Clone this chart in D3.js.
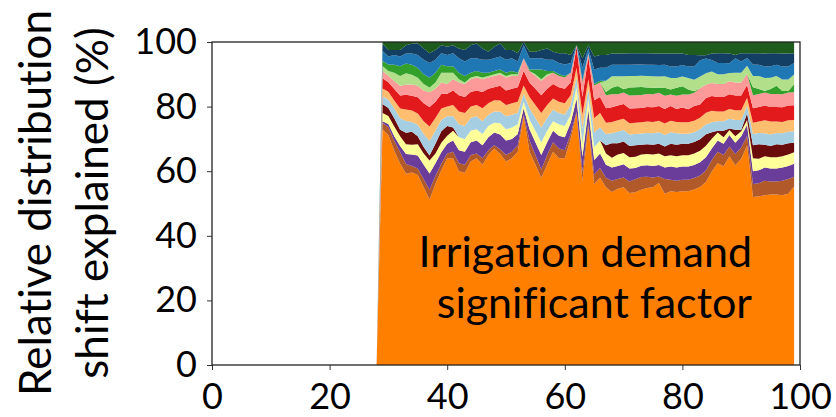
<!DOCTYPE html>
<html>
<head>
<meta charset="utf-8">
<script src="https://cdn.jsdelivr.net/npm/d3@7/dist/d3.min.js"></script>
<style>
  html, body { margin: 0; padding: 0; background: #fff; }
  svg { display: block; }
  text { font-family: Lato, "Open Sans", sans-serif; fill: #000; font-variant-ligatures: none; }
</style>
</head>
<body>
<svg id="chart" width="836" height="417"></svg>
<script>
// Percentile steps along the x axis; factors only contribute from step 29 on
const firstStep = 29;
const lastStep = 99;

// Share of the distribution shift attributed to each factor (steps 29..99)
const irrigation = [73, 71.5, 66, 62, 58, 59, 58.5, 55, 51, 56,
  60, 64, 64, 60, 59.5, 63, 64, 62, 65, 67,
  65, 63, 64, 66, 77, 66, 62, 58, 62, 66,
  64, 64, 70, 78, 57, 74, 56, 58, 55, 53,
  54, 54.5, 53, 53.5, 54.5, 54.5, 54.5, 55.5, 52.5, 53,
  53, 53, 53, 53.5, 54, 55.5, 59, 62.5, 61.5, 64,
  61.5, 63.5, 69, 52, 52, 52, 52.5, 52.5, 52, 52.5,
  55];
const brown = [2, 2.5, 3, 3.5, 3, 2, 2, 2.5, 3, 2.5,
  2, 1.5, 2, 2.5, 2.5, 2, 1.5, 2, 1.5, 1,
  1.5, 2, 2, 2, 0.5, 3.5, 3, 2.5, 3, 3,
  3, 2.5, 1.5, 0.5, 3, 1, 3, 3, 3, 3.5,
  3, 3, 3.5, 4, 4, 3.5, 3, 2, 4.5, 3.5,
  3.5, 3.5, 3.5, 3.5, 3.5, 3.5, 3.5, 3.5, 3.5, 3,
  3.5, 3.5, 3, 4, 4, 4.5, 4, 4, 4.5, 4.5,
  3];
const purple = [0.5, 1, 1.5, 2, 3, 3.5, 4, 4.5, 5, 4,
  3.5, 3, 3.5, 4, 4, 4, 4, 4, 4, 4,
  4.5, 4.5, 4, 3.5, 2, 3.5, 4, 4.5, 4, 3.5,
  4, 4, 3.5, 4, 4.5, 4, 4.5, 4.5, 4, 4,
  4, 4, 4, 3.5, 3.5, 3.5, 3.5, 3.5, 3.5, 4,
  4, 4, 4, 4, 4, 4, 3.5, 3.5, 3.5, 3.5,
  3.5, 3.5, 3.5, 4, 4, 4, 4, 4, 4, 4,
  4];
const yellow = [2.5, 2.5, 3, 3, 3, 3, 3.5, 3.5, 4, 3,
  3, 2.5, 3, 4, 4, 3.5, 3.5, 3.5, 3.5, 3,
  3.5, 3.5, 3.5, 3, 2, 3, 3.5, 4, 3.5, 3,
  3.5, 3.5, 2.5, 3.5, 4, 3.5, 4, 4, 3.5, 3,
  3.5, 3.5, 3.5, 3.5, 3.5, 3.5, 3.5, 3.5, 3.5, 3.5,
  3.5, 3.5, 3.5, 3.5, 3.5, 3.5, 3, 2.5, 2, 1.5,
  2, 1.5, 1.5, 4, 3.5, 3.5, 3.5, 3.5, 3.5, 3.5,
  3.5];
const maroon = [2.8, 2.5, 2.5, 2, 3.5, 4, 2.5, 2, 1.5, 3,
  3.5, 3, 1, 0, 0, 0, 0, 0, 0, 0,
  0, 0, 0, 0, 0, 0, 0, 0, 0, 0,
  0, 0, 0, 0, 0, 0, 0, 0, 2.5, 4.5,
  3.5, 3.5, 3.5, 3.5, 3, 3, 3, 3, 3, 3.5,
  3.5, 3.5, 3.5, 3.5, 3.5, 3.5, 2, 0.5, 2, 0.5,
  2, 0.5, 2, 4, 4.5, 3.5, 3.5, 4, 3.5, 3.5,
  3];
const lightBlue = [2.4, 2.5, 3, 3.5, 3.5, 3, 3.5, 4, 4.5, 4,
  3.5, 3, 3.5, 4, 4, 4, 4, 4, 3.5, 3.5,
  3.5, 4, 4, 3.5, 2.5, 3.5, 4, 4.5, 4, 3.5,
  3.5, 3.5, 3, 3, 4.5, 3, 4.5, 4, 3.5, 3,
  3.5, 3.5, 3.5, 3.5, 3.5, 3.5, 3.5, 3.5, 3.5, 3.5,
  3.5, 3, 3, 3, 3, 3, 3, 3, 3, 3,
  3, 3, 2.5, 3.5, 3.5, 3.5, 3.5, 3.5, 3.5, 3.5,
  3.5];
const lightOrange = [2.4, 2.5, 2.5, 3, 3.5, 3.5, 3.5, 4, 4.5, 4,
  3.5, 3, 3.5, 4, 4, 3.5, 3.5, 4, 3.5, 3.5,
  3.5, 3.5, 3.5, 3.5, 2.5, 3.5, 4, 4.5, 4, 3.5,
  3.5, 3.5, 3, 3, 4.5, 3, 4.5, 4.5, 3.5, 3.5,
  3.5, 3.5, 3.5, 3.5, 3.5, 3.5, 3.5, 3.5, 3.5, 3.5,
  3.5, 3.5, 3.5, 3.5, 3.5, 3.5, 3.5, 3, 3, 3,
  3, 3, 2.5, 3.5, 3.5, 4, 4, 3.5, 3.5, 3.5,
  3.5];
const red = [3.2, 3, 3.5, 4, 4.5, 4.5, 5, 5.5, 6, 5,
  4.5, 4, 4.5, 5, 5, 4.5, 4.5, 5, 4.5, 4,
  4.5, 4.5, 4.5, 4.5, 4.5, 4.5, 5, 5.5, 5, 4.5,
  4.5, 4.5, 4, 6.5, 5.5, 7, 5.5, 5, 4.5, 4.5,
  4.5, 4.5, 4.5, 4.5, 4.5, 4.5, 4.5, 4.5, 4.5, 4.5,
  4, 4.5, 4, 4.5, 4, 4.5, 4.5, 4.5, 4.5, 4.5,
  4.5, 4.5, 4, 4.5, 4.5, 4.5, 4.5, 4.5, 4.5, 4.5,
  4.5];
const pink = [2.2, 2, 2.5, 3, 3, 3.5, 3.5, 4, 4.5, 4,
  3.5, 3, 3.5, 4, 4, 4, 4, 4, 3.5, 3.5,
  3.5, 4, 4, 3.5, 4, 3.5, 4, 4.5, 4, 3.5,
  3.5, 3.5, 3, 0.5, 4.5, 1, 4.5, 4.5, 4, 4,
  3.5, 3.5, 4, 4, 4, 4, 4, 4, 4, 3.5,
  4, 4, 4.5, 4, 5, 4, 4, 4, 4, 4,
  4, 4, 3.5, 4, 4, 4, 4, 4, 4, 4,
  4];
const greenLow = [0, 0, 0, 0, 0, 0, 0, 0, 0, 0,
  0, 0, 0, 0, 0, 0, 0, 0, 0, 0,
  0, 0, 0, 0, 0, 0, 0, 0, 0, 0,
  0, 0, 0, 0, 0, 0, 0, 0, 1, 2,
  2.5, 1, 2.5, 2.5, 2.5, 2, 2, 1.5, 2.5, 1.5,
  2.5, 2.5, 1.5, 0.5, 0, 0, 0, 0, 0, 0,
  0, 0, 0, 2.5, 1.5, 0.5, 1.5, 2.5, 1, 0.5,
  2.5];
const lightGreen = [1.6, 1.5, 2.5, 3, 3.5, 3, 2.5, 2, 1.5, 2,
  3, 3.5, 2, 1, 0.5, 0.5, 0.5, 0.5, 0.5, 0.5,
  0.5, 0.5, 0.5, 0.5, 0, 0, 0.5, 0.5, 0.5, 0,
  0, 0, 0, 0, 0, 0, 0, 0, 3.5, 3.5,
  3, 4, 3.5, 3.5, 3.5, 3.5, 3.5, 3.5, 3.5, 3.5,
  3, 3, 3.5, 3.5, 3.5, 3.5, 3.5, 3, 3, 2.5,
  3, 3, 2.5, 3.5, 4, 4, 3.5, 3, 3.5, 3.5,
  3];
const greenHigh = [1.5, 2, 2.5, 3, 3, 3, 3, 3, 3, 3,
  2.5, 2, 2, 2, 2, 1.5, 1.5, 1.5, 1, 1,
  1, 1, 1, 0.5, 0, 0.5, 1.5, 3, 1, 0.5,
  0.5, 0.5, 0, 0, 0.5, 0, 0.5, 0.5, 0, 0,
  0, 0, 0, 0, 0, 0, 0, 0, 0, 0,
  0, 0, 0, 0, 0, 0, 0, 0, 0, 0,
  0, 0, 0, 0, 0, 0, 0, 0, 0, 0,
  0];
const blue = [3.1, 2.5, 3, 3, 3, 3.5, 4, 4.5, 4.5, 4,
  3.5, 3.5, 4, 4.5, 4.5, 4.5, 4, 4, 4, 4,
  4, 4, 4, 3.5, 4, 3.5, 3.5, 3.5, 3.5, 3.5,
  3.5, 3.5, 3, 0, 4, 1.5, 4.5, 4, 4, 3.5,
  3.5, 3.5, 3.5, 3.5, 3.5, 3.5, 3.5, 3.5, 3.5, 3.5,
  3.5, 3.5, 3.5, 4, 5, 4.5, 3.5, 3.5, 3.5, 3,
  4.5, 3.5, 2.5, 3.5, 3.5, 3.5, 3.5, 3.5, 4, 4,
  3.5];
const navy = [2.3, 2, 1.5, 2, 2.5, 3, 3.5, 3.5, 3, 3,
  2.5, 2.5, 2.5, 3, 3.5, 4, 4.5, 3.5, 2.5, 3.5,
  4, 3, 2.5, 2.5, 1, 2, 2, 2.5, 3.5, 2.5,
  3, 3.5, 2.5, 0, 3, 1, 4, 4, 4, 3.5,
  3.5, 3.5, 3.5, 3.5, 3.5, 3.5, 3.5, 3.5, 3.5, 4,
  4, 3.5, 3.5, 3.5, 1.5, 1, 2, 3, 3, 3,
  1, 2.5, 1.5, 3.5, 3.5, 4, 4, 3.5, 4, 4,
  3];
const darkGreen = [0.5, 2.5, 2.5, 2.5, 1, 0.5, 0.5, 2, 3.5, 2.5,
  1, 1.5, 1, 2, 2.5, 1, 0.5, 2, 3, 1.5,
  0.5, 2.5, 2.5, 3.5, 0, 3, 3, 2.5, 2, 3,
  3.5, 3.5, 4, 1, 5, 1, 4.5, 4, 4, 3.5,
  3.5, 3.5, 3.5, 3.5, 3.5, 3.5, 3.5, 3.5, 3.5, 3.5,
  3.5, 3.5, 4, 4, 4, 4, 3.5, 3.5, 3.5, 3.5,
  4, 3.5, 3.5, 3.5, 3.5, 3.5, 3.5, 3.5, 3.5, 3.5,
  3.5];

// Stack order, bottom to top, with fill colours
const factorNames = ["irrigation", "brown", "purple", "yellow", "maroon", "lightBlue",
  "lightOrange", "red", "pink", "greenLow", "lightGreen", "greenHigh", "blue", "navy", "darkGreen"];
const factorValues = [irrigation, brown, purple, yellow, maroon, lightBlue,
  lightOrange, red, pink, greenLow, lightGreen, greenHigh, blue, navy, darkGreen];
const factorColors = ["#ff7f00", "#b15928", "#6a3d9a", "#ffff99", "#6b0c0c", "#a6cee3",
  "#fdbf6f", "#e31a1c", "#fb9a99", "#33a02c", "#b2df8a", "#33a02c", "#1f78b4", "#123f63", "#1d5c1c"];

const xTicks = [0, 20, 40, 60, 80, 100];
const yTicks = [0, 20, 40, 60, 80, 100];
const yLabelLines = ["Relative distribution", "shift explained (%)"];
const noteLines = ["Irrigation demand", "significant factor"];

(function draw() {
  // Table: one row per step; steps before the first contribution are empty
  const table = d3.range(0, lastStep + 1).map(step => {
    const row = { step };
    factorNames.forEach((name, k) => {
      row[name] = step >= firstStep ? factorValues[k][step - firstStep] : 0;
    });
    return row;
  });

  const svg = d3.select("#chart");
  const plot = { left: 212, right: 800, top: 42, bottom: 365 };

  const x = d3.scaleLinear().domain([0, 100]).range([plot.left, plot.right]);
  const y = d3.scaleLinear().domain([0, 100]).range([plot.bottom, plot.top]);

  // Shares are expressed relative to the total at each step
  const stack = d3.stack().keys(factorNames).offset(d3.stackOffsetExpand);
  const layers = stack(table);

  const area = d3.area()
    .x(d => x(d.data.step))
    .y0(d => y(d[0] * 100))
    .y1(d => y(d[1] * 100));

  svg.append("clipPath").attr("id", "plot-clip")
    .append("rect").attr("x", plot.left).attr("y", plot.top)
    .attr("width", plot.right - plot.left).attr("height", plot.bottom - plot.top);

  svg.append("g").attr("clip-path", "url(#plot-clip)")
    .selectAll("path")
    .data(layers)
    .join("path")
    .attr("d", area)
    .attr("fill", (d, i) => factorColors[i]);

  // Axes
  const tickFont = "36px";
  const xAxis = svg.append("g").attr("transform", `translate(0,${plot.bottom})`)
    .call(d3.axisBottom(x).tickValues(xTicks).tickSize(5).tickPadding(5).tickFormat(d3.format("d")));
  const yAxis = svg.append("g").attr("transform", `translate(${plot.left},0)`)
    .call(d3.axisLeft(y).tickValues(yTicks).tickSize(5).tickPadding(10).tickFormat(d3.format("d")));
  [xAxis, yAxis].forEach(g => {
    g.selectAll("text").style("font-size", tickFont).style("font-family", "Lato, sans-serif").attr("fill", "#000");
    g.selectAll("line").attr("stroke", "#333");
    g.select(".domain").remove();
  });
  xAxis.selectAll("text").attr("dy", "0.95em");

  // Frame around the plotting area
  svg.append("rect")
    .attr("x", plot.left).attr("y", plot.top)
    .attr("width", plot.right - plot.left).attr("height", plot.bottom - plot.top)
    .attr("fill", "none").attr("stroke", "#222").attr("stroke-width", 1.3);

  // Y axis title, two lines
  const yTitle = svg.append("text")
    .attr("transform", "translate(0,203) rotate(-90)")
    .attr("text-anchor", "middle")
    .style("font-size", "44px");
  yTitle.selectAll("tspan").data(yLabelLines).join("tspan")
    .attr("x", 0)
    .attr("y", (d, i) => i === 0 ? 51 : 108)
    .text(d => d);

  // Note on the dominant factor
  const note = svg.append("text")
    .attr("text-anchor", "end")
    .style("font-size", "43px");
  note.selectAll("tspan").data(noteLines).join("tspan")
    .attr("x", 752)
    .attr("y", (d, i) => i === 0 ? 267 : 318)
    .text(d => d);
})();
</script>
</body>
</html>
